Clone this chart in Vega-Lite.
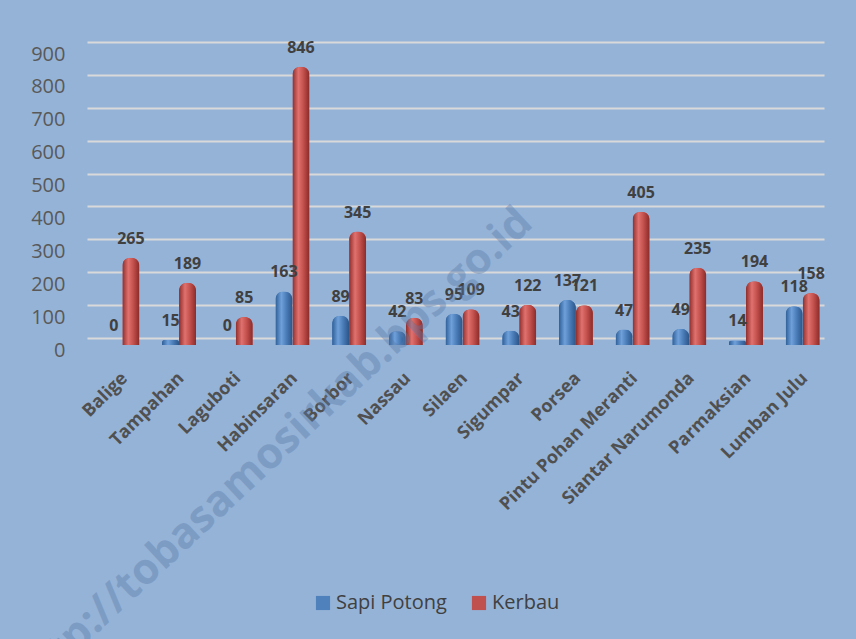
{
  "$schema": "https://vega.github.io/schema/vega-lite/v6.json",
  "autosize": "none",
  "width": 737,
  "height": 296,
  "padding": {"left": 94, "top": 49, "right": 25, "bottom": 294},
  "background": "#95B3D7",
  "config": {
    "view": {"stroke": null},
    "font": "Open Sans"
  },
  "datasets": {
    "ternak": [
      {"kec": "Balige", "jenis": "Sapi Potong", "nilai": 0},
      {"kec": "Balige", "jenis": "Kerbau", "nilai": 265},
      {"kec": "Tampahan", "jenis": "Sapi Potong", "nilai": 15},
      {"kec": "Tampahan", "jenis": "Kerbau", "nilai": 189},
      {"kec": "Laguboti", "jenis": "Sapi Potong", "nilai": 0},
      {"kec": "Laguboti", "jenis": "Kerbau", "nilai": 85},
      {"kec": "Habinsaran", "jenis": "Sapi Potong", "nilai": 163},
      {"kec": "Habinsaran", "jenis": "Kerbau", "nilai": 846},
      {"kec": "Borbor", "jenis": "Sapi Potong", "nilai": 89},
      {"kec": "Borbor", "jenis": "Kerbau", "nilai": 345},
      {"kec": "Nassau", "jenis": "Sapi Potong", "nilai": 42},
      {"kec": "Nassau", "jenis": "Kerbau", "nilai": 83},
      {"kec": "Silaen", "jenis": "Sapi Potong", "nilai": 95},
      {"kec": "Silaen", "jenis": "Kerbau", "nilai": 109},
      {"kec": "Sigumpar", "jenis": "Sapi Potong", "nilai": 43},
      {"kec": "Sigumpar", "jenis": "Kerbau", "nilai": 122},
      {"kec": "Porsea", "jenis": "Sapi Potong", "nilai": 137},
      {"kec": "Porsea", "jenis": "Kerbau", "nilai": 121},
      {"kec": "Pintu Pohan Meranti", "jenis": "Sapi Potong", "nilai": 47},
      {"kec": "Pintu Pohan Meranti", "jenis": "Kerbau", "nilai": 405},
      {"kec": "Siantar Narumonda", "jenis": "Sapi Potong", "nilai": 49},
      {"kec": "Siantar Narumonda", "jenis": "Kerbau", "nilai": 235},
      {"kec": "Parmaksian", "jenis": "Sapi Potong", "nilai": 14},
      {"kec": "Parmaksian", "jenis": "Kerbau", "nilai": 194},
      {"kec": "Lumban Julu", "jenis": "Sapi Potong", "nilai": 118},
      {"kec": "Lumban Julu", "jenis": "Kerbau", "nilai": 158}
    ],
    "tanda": [{"t": "http://tobasamosirkab.bps.go.id", "kec": "Laguboti", "pos": -430}]
  },
  "encoding": {
    "x": {
      "field": "kec", "type": "nominal", "sort": null, "title": null,
      "scale": {"paddingInner": 0.4, "paddingOuter": 0.2},
      "axis": {
        "labelAngle": -45, "labelAlign": "right", "labelBaseline": "top",
        "labelFont": "Open Sans", "labelFontWeight": "bold", "labelFontSize": 18,
        "labelColor": "#505050", "ticks": false, "domain": false, "labelPadding": 24,
        "labelOffset": -4, "labelLimit": 0, "grid": false
      }
    },
    "y": {
      "field": "nilai", "type": "quantitative", "title": null,
      "scale": {"domain": [0, 900], "nice": false, "zero": false},
      "axis": {
        "values": [0, 100, 200, 300, 400, 500, 600, 700, 800, 900],
        "labelFontSize": 20, "labelColor": "#595959", "labelFont": "Open Sans",
        "ticks": false, "domain": false, "labelPadding": 22,
        "translate": -6.5, "labelOffset": 12,
        "gridColor": "#D9D9D9", "gridWidth": 2
      }
    }
  },
  "layer": [
    {
      "data": {"name": "ternak"},
      "mark": {"type": "bar", "cornerRadiusTopLeft": 8, "cornerRadiusTopRight": 8},
      "encoding": {
        "xOffset": {"field": "jenis", "type": "nominal", "scale": {"domain": ["Sapi Potong", "Kerbau"], "paddingInner": 0}},
        "color": {
          "field": "jenis", "type": "nominal",
          "scale": {"domain": ["Sapi Potong", "Kerbau"], "range": ["#4F81BD", "#C0504D"]},
          "legend": {
            "title": null, "orient": "none", "direction": "horizontal",
            "legendX": 219, "legendY": 544,
            "symbolType": "square", "symbolSize": 200, "symbolStrokeWidth": 0,
            "labelFontSize": 20, "labelColor": "#404040", "labelFont": "Open Sans",
            "columnPadding": 22, "labelOffset": 3
          }
        }
      }
    },
    {
      "data": {"name": "ternak"},
      "transform": [{"filter": "datum.jenis === 'Sapi Potong'"}],
      "mark": {
        "type": "bar", "cornerRadiusTopLeft": 8, "cornerRadiusTopRight": 8,
        "fill": {"gradient": "linear", "x1": 0, "x2": 1, "y1": 0, "y2": 0,
          "stops": [
            {"offset": 0, "color": "#2D5E96"},
            {"offset": 0.35, "color": "#6FA0DA"},
            {"offset": 0.65, "color": "#4A7CB8"},
            {"offset": 1, "color": "#2B5587"}
          ]}
      },
      "encoding": {
        "xOffset": {"field": "jenis", "type": "nominal"}
      }
    },
    {
      "data": {"name": "ternak"},
      "transform": [{"filter": "datum.jenis === 'Kerbau'"}],
      "mark": {
        "type": "bar", "cornerRadiusTopLeft": 8, "cornerRadiusTopRight": 8,
        "fill": {"gradient": "linear", "x1": 0, "x2": 1, "y1": 0, "y2": 0,
          "stops": [
            {"offset": 0, "color": "#8E2D2B"},
            {"offset": 0.35, "color": "#E0716E"},
            {"offset": 0.65, "color": "#C24F4B"},
            {"offset": 1, "color": "#8A2B29"}
          ]}
      },
      "encoding": {
        "xOffset": {"field": "jenis", "type": "nominal"}
      }
    },
    {
      "data": {"name": "ternak"},
      "mark": {"type": "text", "fontWeight": "bold", "fontSize": 16, "color": "#404040", "baseline": "bottom", "dy": -11, "font": "Open Sans"},
      "encoding": {
        "xOffset": {"field": "jenis", "type": "nominal"},
        "text": {"field": "nilai", "type": "quantitative"}
      }
    },
    {
      "data": {"name": "tanda"},
      "mark": {"type": "text", "fontWeight": "bold", "fontSize": 43, "color": "#5A7BAA", "opacity": 0.4, "angle": -43, "align": "center", "baseline": "middle", "dx": 50, "font": "Open Sans"},
      "encoding": {
        "y": {"field": "pos", "type": "quantitative", "scale": {"domain": [0, 900], "nice": false, "zero": false}},
        "text": {"field": "t", "type": "nominal"}
      }
    }
  ]
}
